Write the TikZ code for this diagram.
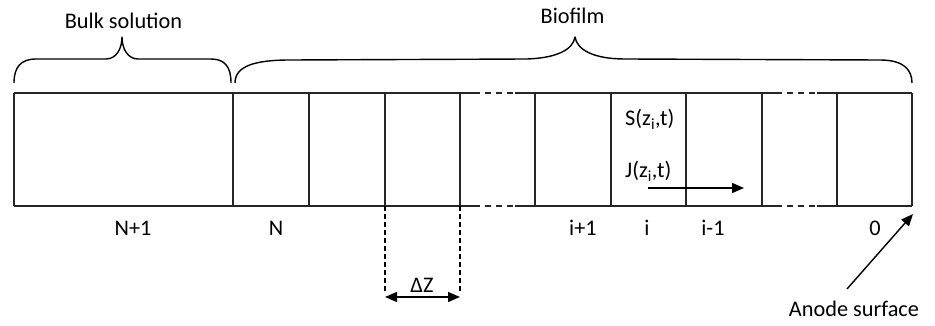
\documentclass[tikz,border=0pt]{standalone}
\usepackage{fontspec}
\setmainfont{Carlito}
\usetikzlibrary{arrows.meta}
\tikzset{
  lbl/.style={inner sep=0pt, anchor=base, font=\fontsize{22.3}{25}\selectfont},
  cellline/.style={line width=1.4pt, draw=black!85},
  gapline/.style={cellline, dash pattern=on 6pt off 5pt, dash phase=6pt},
  guide/.style={line width=1.3pt, dash pattern=on 5pt off 3pt},
  bracepath/.style={line width=1.4pt, line join=round},
  tip/.style={-{Triangle[length=12pt,width=10pt]}, line width=1.4pt},
  dtip/.style={{Triangle[length=12pt,width=10pt]}-{Triangle[length=12pt,width=10pt]}, line width=1.4pt}
}
\begin{document}
\begin{tikzpicture}[x=1pt,y=-1pt]
\useasboundingbox (0,0) rectangle (935,326);

% cell boundaries along the row
\foreach \n/\x in {a/14,b/233,c/309,d/385,e/460,f/535,g/611,h/686,k/762,l/837,m/912}{
  \coordinate (t\n) at (\x,93);
  \coordinate (b\n) at (\x,206);
}

% top and bottom edges, broken where cells are omitted
\foreach \r in {t,b}{
  \draw[cellline] (\r a) -- ([xshift=20pt]\r e);
  \draw[gapline] ([xshift=20pt]\r e) -- ([xshift=-20pt]\r f);
  \draw[cellline] ([xshift=-20pt]\r f) -- ([xshift=20pt]\r k);
  \draw[gapline] ([xshift=20pt]\r k) -- ([xshift=-20pt]\r l);
  \draw[cellline] ([xshift=-20pt]\r l) -- (\r m);
}
% vertical walls
\foreach \n in {a,b,c,d,e,f,g,h,k,l,m}{
  \draw[cellline] (t\n) -- (b\n);
}

% braces
\draw[bracepath] (14,83) .. controls (14,67) and (21,59) .. (36,59) -- (106,59)
  .. controls (116,59) and (122,49) .. (122,37)
  .. controls (122,49) and (128,59) .. (138,59) -- (211,59)
  .. controls (225,59) and (231,67) .. (231,83);
\draw[bracepath] (235,83) .. controls (235,66) and (255,60) .. (290,60) -- (527,59)
  .. controls (556,58) and (573,50) .. (575,37)
  .. controls (577,50) and (594,59) .. (625,59) -- (880,60)
  .. controls (904,60) and (912,70) .. (912,83);
\node[lbl] (bulk) at (123.5,29) {Bulk solution};
\node[lbl] (bio) at (572.5,24) {Biofilm};

% cell indices
\node[lbl] (nn1) at (133,236) {N+1};
\node[lbl] (nn) at (276,236) {N};
\node[lbl] (ip1) at (583,236) {i+1};
\node[lbl] (ii) at (647,236) {i};
\node[lbl] (im1) at (713,236) {i-1};
\node[lbl] (zero) at (875,236) {0};

% concentration and flux in cell i
\node[lbl, anchor=base west] (conc) at (625,126) {S(z\textsubscript{i},t)};
\node[lbl, anchor=base west] (flux) at (625,178) {J(z\textsubscript{i},t)};
\coordinate (fluxa) at (648,188);
\coordinate (fluxb) at (744,188);
\draw[tip] (fluxa) -- (fluxb);

% cell thickness
\coordinate (dzl) at (385,297);
\coordinate (dzr) at (460,297);
\draw[guide] (bd) -- (385,293);
\draw[guide] (be) -- (460,293);
\draw[dtip] (dzl) -- (dzr);
\node[lbl] (dz) at (422,292) {ΔZ};

% anode surface
\node[lbl] (anode) at (854,316) {Anode surface};
\coordinate (anodefoot) at (847,289);
\coordinate (anodetip) at (913,214);
\draw[tip] (anodefoot) -- (anodetip);
\end{tikzpicture}
\end{document}
